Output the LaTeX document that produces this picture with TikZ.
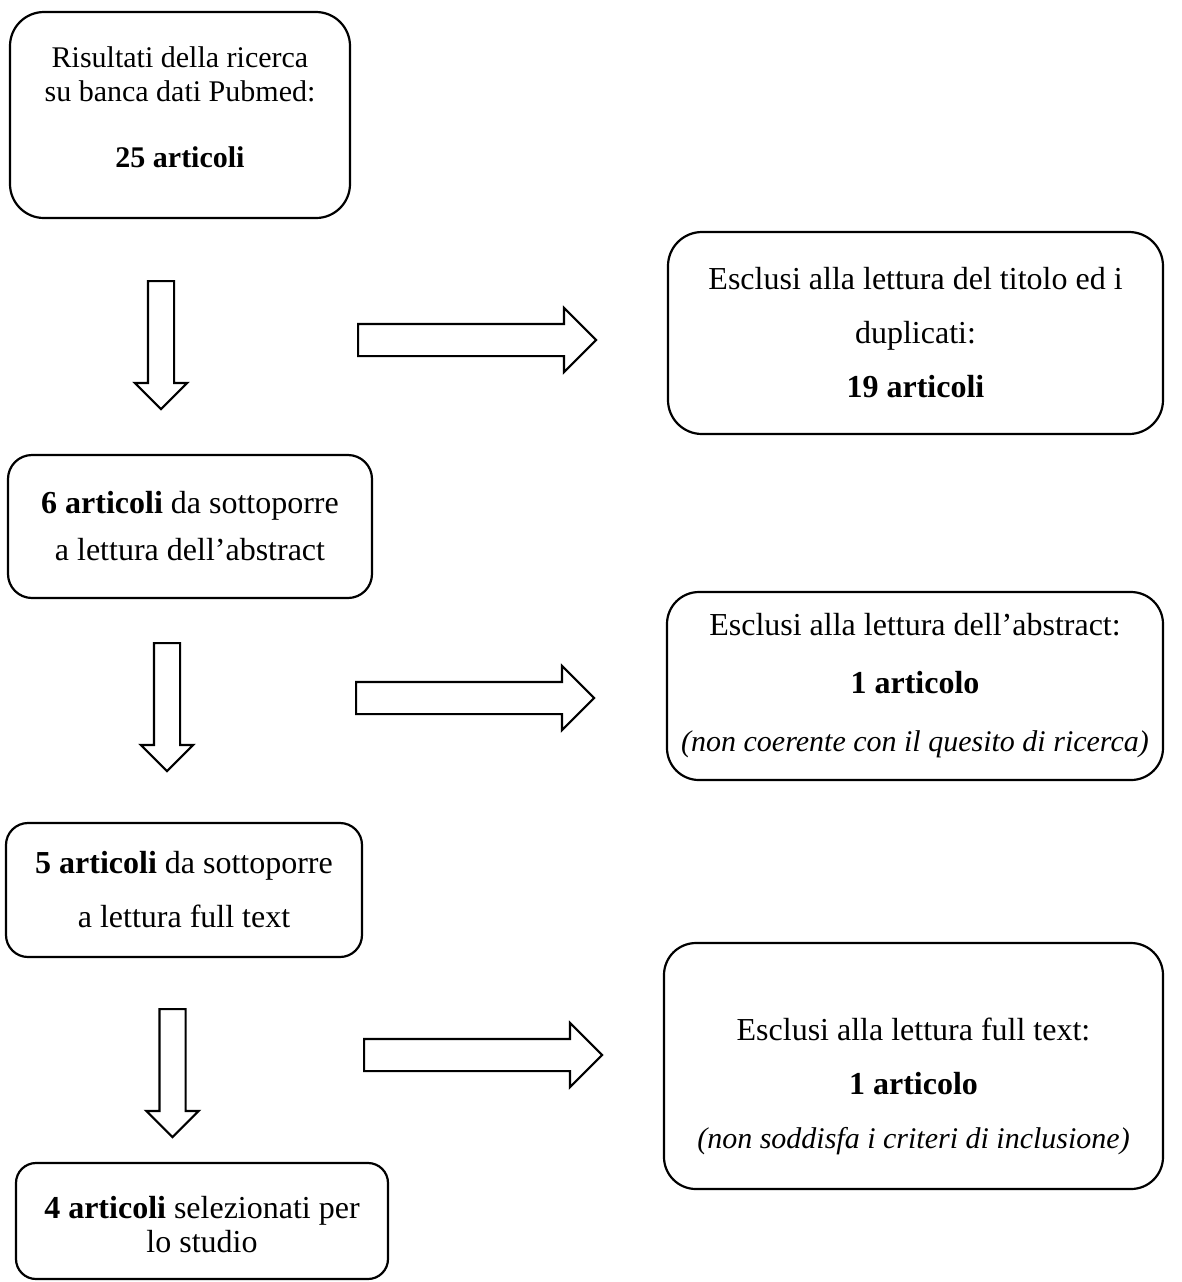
\documentclass[tikz,border=0pt]{standalone}
\usepackage{fontspec}
\setmainfont{Liberation Serif}
\usepackage{tikz}
\usetikzlibrary{shapes.arrows,positioning}

\begin{document}
\begin{tikzpicture}[
    x=0.5pt, y=-0.5pt,
    box/.style={rectangle, draw, line width=1.1pt, align=center, inner sep=0pt},
    stepbox/.style={box, font=\fontsize{16}{17}\selectfont},
    exbox/.style={box, font=\fontsize{16}{27}\selectfont},
    downarrow/.style={single arrow, draw, line width=1.1pt, inner xsep=0pt, inner ysep=6pt, single arrow head extend=6.5pt, minimum height=64pt, anchor=tail, rotate=-90},
    rightarrow/.style={single arrow, draw, line width=1.1pt, inner xsep=0pt, inner ysep=7.5pt, single arrow head extend=8pt, minimum height=119pt, anchor=tail}
]
\useasboundingbox (0,0) rectangle (1182,1282);

% Left column - articles kept
\node[stepbox, font=\fontsize{15}{17}\selectfont, rounded corners=17pt, minimum width=170pt, minimum height=103pt] (pubmed) at (180,115)
    {Risultati della ricerca\\su banca dati Pubmed:\\[16pt]\textbf{25 articoli}\rule[-8pt]{0pt}{8pt}};
\node[stepbox, font=\fontsize{16}{23.5}\selectfont, rounded corners=12pt, minimum width=182pt, minimum height=71.5pt] (abstract) at (190,526.5)
    {\textbf{6 articoli} da sottoporre\\a lettura dell'abstract};
\node[stepbox, font=\fontsize{16}{27}\selectfont, rounded corners=11pt, minimum width=178pt, minimum height=67pt] (fulltext) at (184,890)
    {\textbf{5 articoli} da sottoporre\\a lettura full text};
\node[stepbox, rounded corners=10pt, minimum width=186pt, minimum height=58pt] (selected) at (202,1221)
    {\rule{0pt}{15pt}\textbf{4 articoli} selezionati per\\lo studio};

% Right column - articles excluded
\node[exbox, rounded corners=17pt, minimum width=247.5pt, minimum height=101pt] (excl1) at (915.5,333)
    {Esclusi alla lettura del titolo ed i\\duplicati:\\\textbf{19 articoli}};
\node[exbox, font=\fontsize{16}{29}\selectfont, rounded corners=16pt, minimum width=248pt, minimum height=94pt] (excl2) at (915,686)
    {Esclusi alla lettura dell'abstract:\\\textbf{1 articolo}\\{\fontsize{15}{29}\selectfont\itshape (non coerente con il quesito di ricerca)}};
\node[exbox, rounded corners=16pt, minimum width=249.5pt, minimum height=123pt] (excl3) at (913.5,1066)
    {\rule{0pt}{32pt}Esclusi alla lettura full text:\\\textbf{1 articolo}\\{\fontsize{15}{27}\selectfont\itshape (non soddisfa i criteri di inclusione)}};

% Block arrows down
\node[downarrow] (down1) at (161,280) {};
\node[downarrow] (down2) at (167,642) {};
\node[downarrow] (down3) at (172.5,1008) {};

% Block arrows right
\node[rightarrow] (right1) at (357,340) {};
\node[rightarrow] (right2) at (355,698) {};
\node[rightarrow] (right3) at (363,1055) {};

\end{tikzpicture}
\end{document}
